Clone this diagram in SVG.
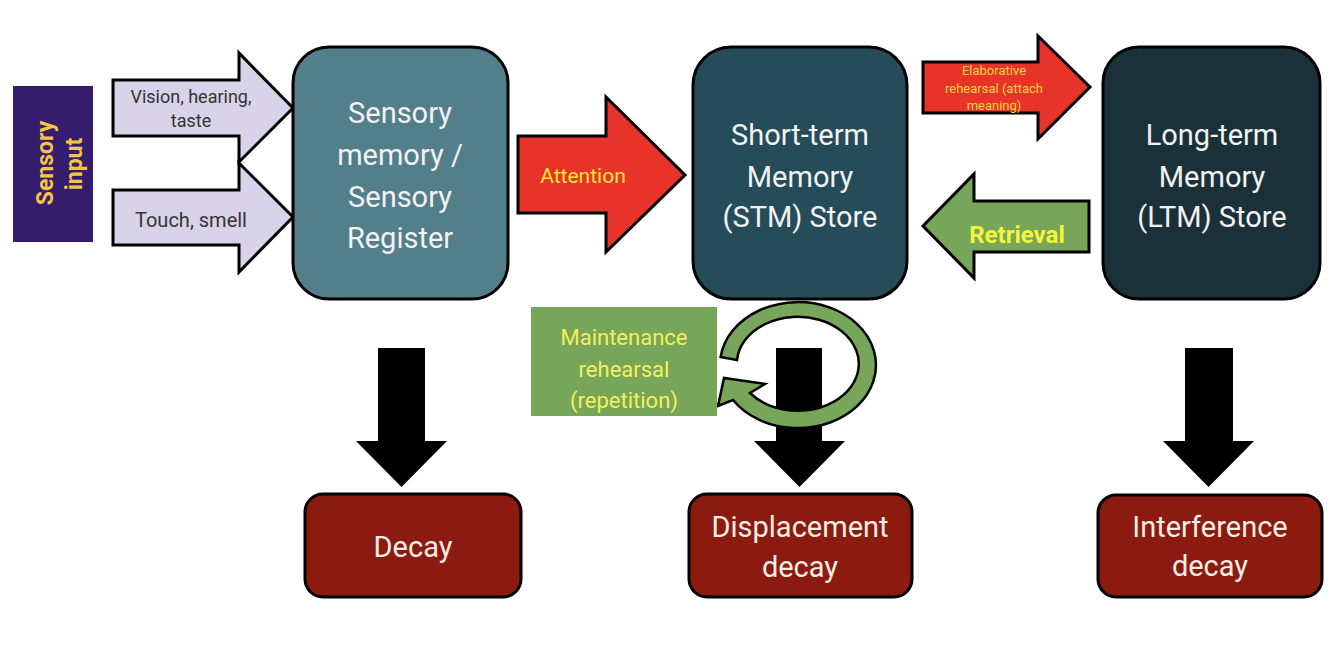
<svg xmlns="http://www.w3.org/2000/svg" width="1334" height="652" viewBox="0 0 1334 652">
<style>
text{font-family:Roboto,"Liberation Sans",sans-serif;text-anchor:middle}
.box{stroke:#000;stroke-width:3}
.big{font-size:29px;fill:#f2f2f2}
.red{fill:#8b1a10}
.redt{font-size:29px;fill:#f6eee2}
.arr{stroke:#000;stroke-width:3;stroke-linejoin:miter}
.down{fill:#000}
.lav{fill:#d9d3e9}
.rarr{fill:#e8332a}
.garr{fill:#77a55a}
</style>
<rect width="1334" height="652" fill="#fff"/>

<g id="connectors">
  <g id="arrow-vision">
    <polygon class="arr lav" points="113,80 239,80 239,53 293,108 239,162 239,136 113,136"/>
    <text x="191" y="103" font-size="18" fill="#333">Vision, hearing,</text>
    <text x="191" y="127" font-size="18" fill="#333">taste</text>
  </g>
  <g id="arrow-touch">
    <polygon class="arr lav" points="113,190 239,190 239,163 293,217 239,272 239,245 113,245"/>
    <text x="191" y="227" font-size="20" fill="#333">Touch, smell</text>
  </g>
  <g id="arrow-attention">
    <polygon class="arr rarr" points="518,136 606,136 606,97 685,175 606,252 606,213 518,213"/>
    <text x="583" y="183" font-size="21" fill="#f6e53c">Attention</text>
  </g>
  <g id="arrow-elaborative">
    <polygon class="arr rarr" points="923,62 1038,62 1038,36 1090,87 1038,139 1038,113 923,113"/>
    <text x="994" y="75" font-size="13" fill="#f5d83a">Elaborative</text>
    <text x="994" y="93" font-size="13" fill="#f5d83a">rehearsal (attach</text>
    <text x="994" y="110" font-size="13" fill="#f5d83a">meaning)</text>
  </g>
  <g id="arrow-retrieval">
    <polygon class="arr garr" points="923,226 974,174 974,201 1089,201 1089,252 974,252 974,278"/>
    <text x="1017" y="243" font-size="24" font-weight="bold" fill="#f4f53c">Retrieval</text>
  </g>
  <g id="arrow-decay">
    <polygon class="down" points="378,348 425,348 425,441 447,441 401.5,487 356,441 378,441"/>
  </g>
  <g id="arrow-displacement">
    <polygon class="down" points="776,348 822,348 822,441 845,441 799.5,487 754,441 776,441"/>
  </g>
  <g id="arrow-interference">
    <polygon class="down" points="1185,348 1233,348 1233,441 1254,441 1208.5,487 1163,441 1185,441"/>
  </g>
  <g id="arrow-maintenance-loop">
    <path d="M720.6,357 A78,63 0 1 1 733,400 L718,406 L724,378 L765,384 L750,393 A61,47 0 1 0 737,360 Z" fill="#77a55a" stroke="#000" stroke-width="2.5" stroke-linejoin="miter"/>
  </g>
</g>

<g id="sensory-input">
  <rect x="13" y="86" width="80" height="156" fill="#351c6d"/>
  <text transform="translate(53,163) rotate(-90)" font-size="23" font-weight="bold" fill="#f4c542">Sensory</text>
  <text transform="translate(82,164) rotate(-90)" font-size="23" font-weight="bold" fill="#f4c542">input</text>
</g>

<g id="sensory-memory">
  <rect class="box" x="293" y="47" width="215" height="252" rx="36" fill="#537f8b"/>
  <text class="big" x="400" y="123">Sensory</text>
  <text class="big" x="400" y="165">memory /</text>
  <text class="big" x="400" y="207">Sensory</text>
  <text class="big" x="400" y="248">Register</text>
</g>

<g id="stm">
  <rect class="box" x="693" y="47" width="214" height="252" rx="38" fill="#264c5a"/>
  <text class="big" x="800" y="145">Short-term</text>
  <text class="big" x="800" y="187">Memory</text>
  <text class="big" x="800" y="227">(STM) Store</text>
</g>

<g id="ltm">
  <rect class="box" x="1103" y="47" width="217" height="252" rx="36" fill="#1b313a"/>
  <text class="big" x="1212" y="145">Long-term</text>
  <text class="big" x="1212" y="187">Memory</text>
  <text class="big" x="1212" y="227">(LTM) Store</text>
</g>

<g id="maintenance-rehearsal">
  <rect x="531" y="307" width="186" height="109" fill="#77a55a"/>
  <text x="624" y="345" font-size="22" fill="#f4f05a">Maintenance</text>
  <text x="624" y="377" font-size="22" fill="#f4f05a">rehearsal</text>
  <text x="624" y="408" font-size="22" fill="#f4f05a">(repetition)</text>
</g>

<g id="decay">
  <rect class="box red" x="305" y="494" width="216" height="103" rx="18"/>
  <text class="redt" x="413" y="557">Decay</text>
</g>

<g id="displacement-decay">
  <rect class="box red" x="689" y="494" width="223" height="103" rx="18"/>
  <text class="redt" x="800" y="537">Displacement</text>
  <text class="redt" x="800" y="577">decay</text>
</g>

<g id="interference-decay">
  <rect class="box red" x="1098" y="495" width="224" height="102" rx="18"/>
  <text class="redt" x="1210" y="537">Interference</text>
  <text class="redt" x="1210" y="576">decay</text>
</g>
</svg>
